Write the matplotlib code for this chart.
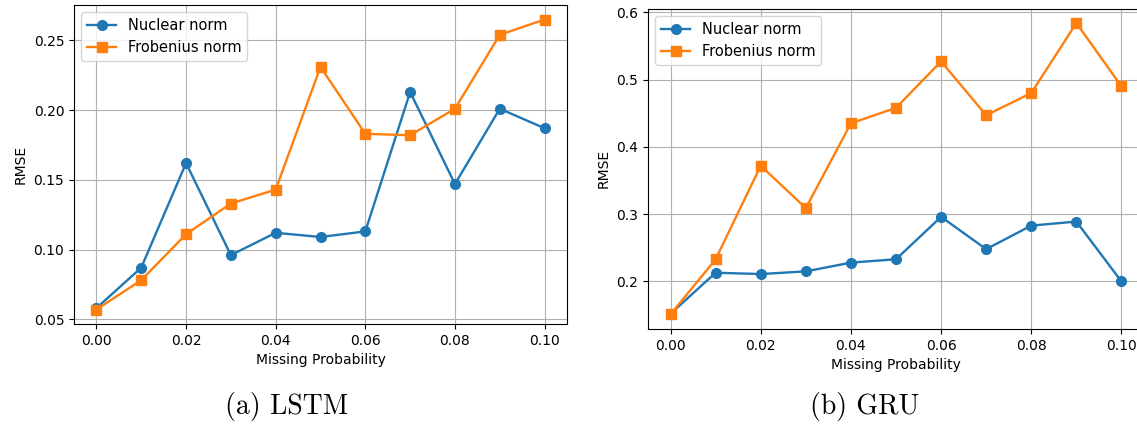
import matplotlib
matplotlib.use("Agg")
import matplotlib.pyplot as plt

prob = [0.00, 0.01, 0.02, 0.03, 0.04, 0.05, 0.06, 0.07, 0.08, 0.09, 0.10]

lstm_nuclear = [0.058, 0.087, 0.162, 0.096, 0.112, 0.109, 0.113, 0.213, 0.147, 0.201, 0.187]
lstm_frob = [0.057, 0.078, 0.111, 0.133, 0.143, 0.231, 0.183, 0.182, 0.201, 0.254, 0.265]

gru_nuclear = [0.152, 0.213, 0.211, 0.215, 0.228, 0.233, 0.296, 0.248, 0.283, 0.289, 0.200]
gru_frob = [0.151, 0.233, 0.372, 0.309, 0.435, 0.458, 0.527, 0.447, 0.480, 0.584, 0.490]

plt.rcParams['font.size'] = 10

W, H = 1137, 426
fig = plt.figure(figsize=(W / 100, H / 100), dpi=100)
ax1 = fig.add_axes([74 / W, 1 - 324 / H, 493 / W, 319 / H])
ax2 = fig.add_axes([648 / W, 1 - 329 / H, 496 / W, 320.5 / H])

for ax, nuc, frob in [(ax1, lstm_nuclear, lstm_frob), (ax2, gru_nuclear, gru_frob)]:
    ax.plot(prob, nuc, '-o', color='#1f77b4', markersize=7, linewidth=1.7, label='Nuclear norm')
    ax.plot(prob, frob, '-s', color='#ff7f0e', markersize=7, linewidth=1.7, label='Frobenius norm')
    ax.grid(True, color='#b0b0b0', linewidth=0.8)
    ax.set_xlabel('Missing Probability')
    ax.set_ylabel('RMSE')
    ax.set_xticks([0.00, 0.02, 0.04, 0.06, 0.08, 0.10])
    ax.legend(loc='upper left', fontsize=10.5)

ax1.set_yticks([0.05, 0.10, 0.15, 0.20, 0.25])
ax2.set_yticks([0.2, 0.3, 0.4, 0.5, 0.6])

fig.text(286.5 / W, 1 - 414 / H, '(a) LSTM', family='cmr10', fontsize=20,
         ha='center', va='baseline')
fig.text(864.5 / W, 1 - 414 / H, '(b) GRU', family='cmr10', fontsize=20,
         ha='center', va='baseline')

fig.savefig('out.png', dpi=100)
